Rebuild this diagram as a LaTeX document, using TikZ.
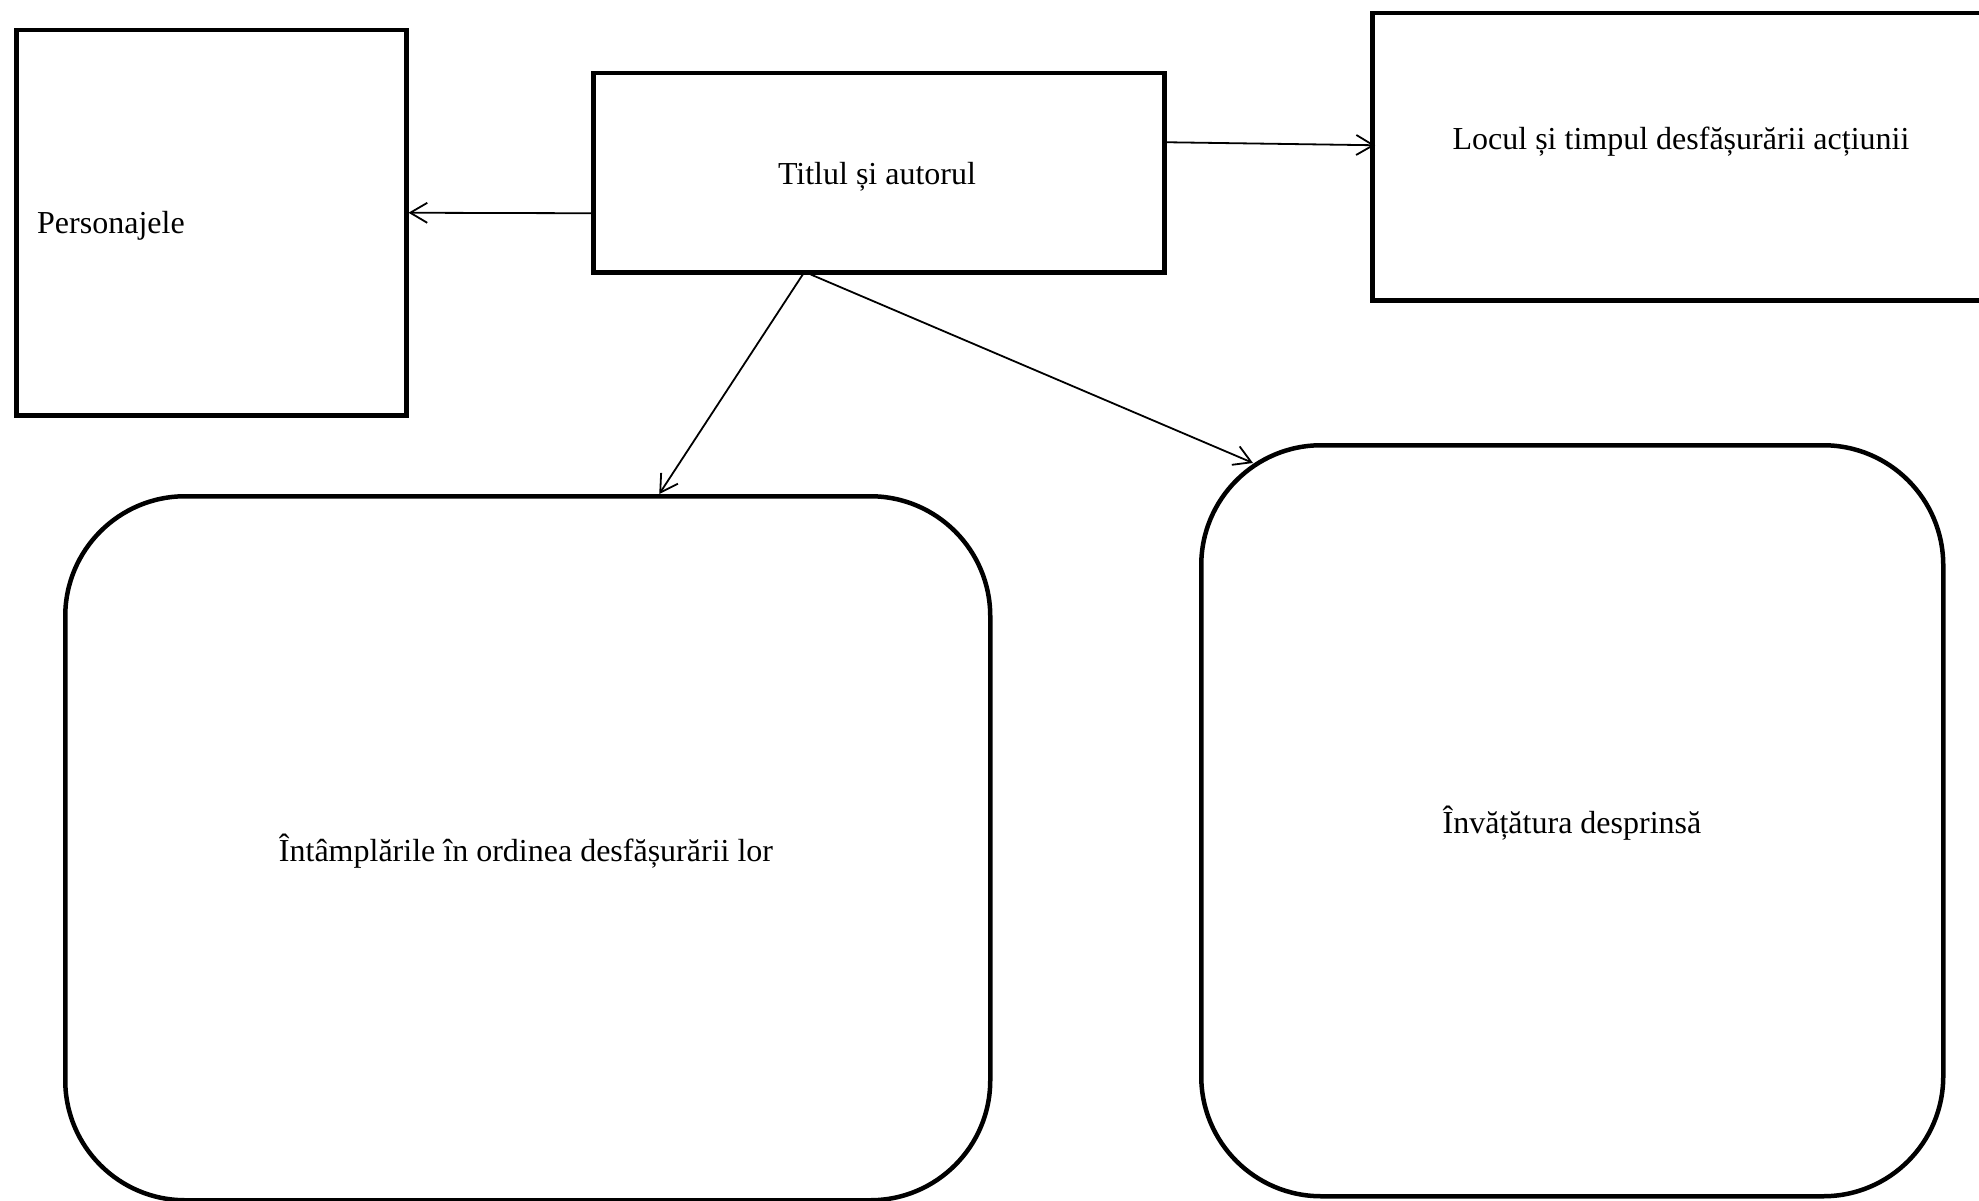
\documentclass[tikz,border=0pt]{standalone}
\usepackage{fontspec}
\setmainfont{Liberation Serif}
\usetikzlibrary{arrows.meta}
\begin{document}
\begin{tikzpicture}[x=1pt,y=-1pt,
  box/.style={draw=black, line width=4.5pt, fill=white, inner sep=0pt, anchor=north west},
  rbox/.style={box, rounded corners=120pt},
  lbl/.style={font=\fontsize{32}{38}\selectfont, inner sep=0pt},
  conn/.style={draw=black, line width=1.8pt, -{Straight Barb[length=17pt,width=20pt]}}
]
\useasboundingbox (0,0) rectangle (1979,1201);
\fill[white] (0,0) rectangle (1979,1201);
\clip (0,0) rectangle (1979,1201);

% boxes
\node[box, minimum width=390pt, minimum height=385pt] (p) at (14,28) {};
\node[box, minimum width=571pt, minimum height=199pt] (t) at (591,71) {};
\node[box, minimum width=640pt, minimum height=287pt] (l) at (1370,11) {};
\node[rbox, minimum width=925pt, minimum height=704pt] (i) at (63,494) {};
\node[rbox, minimum width=742pt, minimum height=751pt] (v) at (1199,443) {};

% labels
\node[lbl, anchor=west] (pt) at (37,226) {Personajele};
\node[lbl] (tt) at (877,177) {Titlul și autorul};
\node[lbl] (lt) at (1681,142) {Locul și timpul desfășurării acțiunii};
\node[lbl] (it) at (526,851) {Întâmplările în ordinea desfășurării lor};
\node[lbl] (vt) at (1572,823) {Învățătura desprinsă};

% connectors
\draw[conn] ([yshift=-40.5pt]t.west) -- ([yshift=10pt]p.east);
\draw[conn] ([yshift=30.5pt]t.east) -- ([yshift=11.5pt,xshift=5pt]l.west);
\draw[conn] ([xshift=-76pt]t.south) -- ([xshift=131.5pt]i.north);
\draw[conn] ([xshift=-68pt]t.south) -- ([xshift=54pt,yshift=-20pt]v.north west);
\end{tikzpicture}
\end{document}
